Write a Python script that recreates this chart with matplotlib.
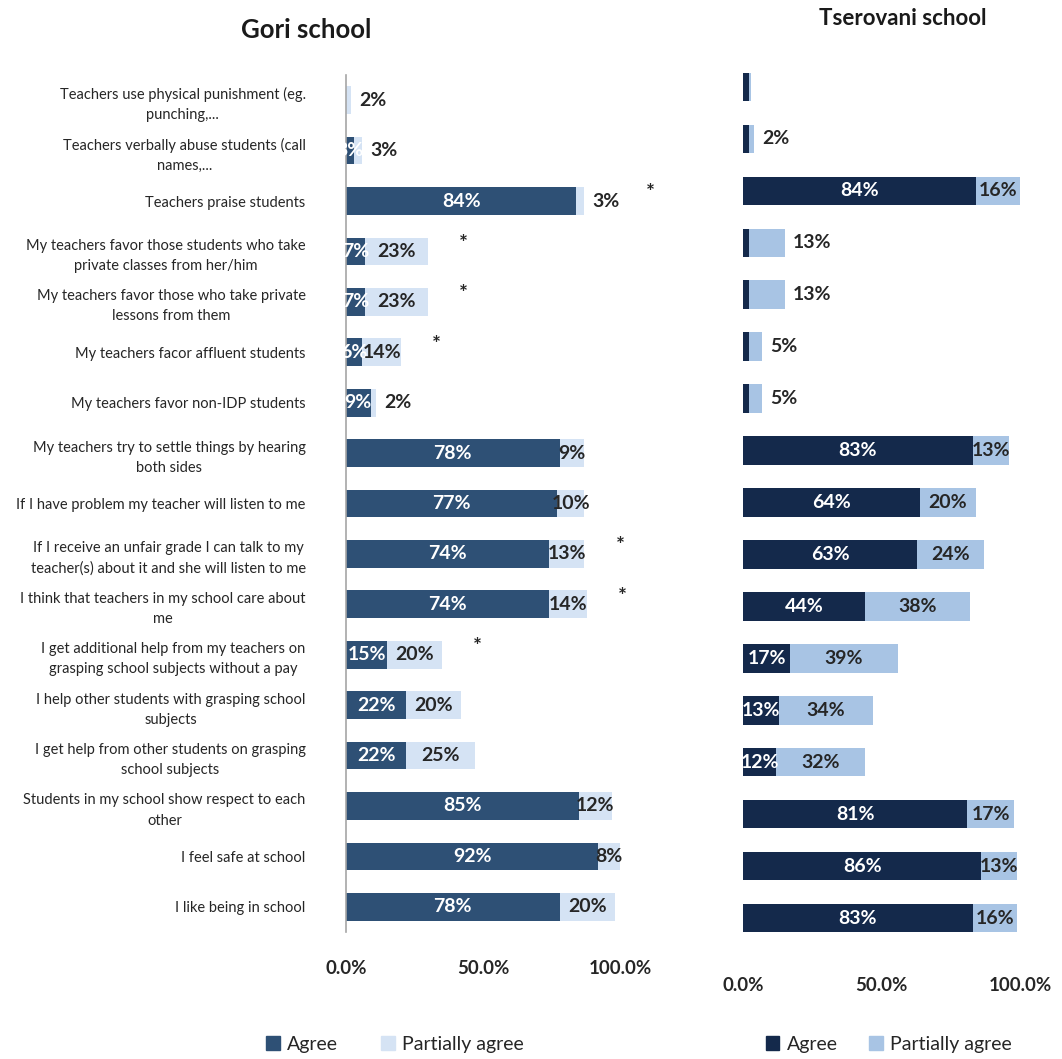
import matplotlib
matplotlib.use('Agg')
import matplotlib.pyplot as plt
from matplotlib.patches import Patch

# Survey statements, top to bottom
statements = [
    "Teachers use physical punishment (eg.\npunching,...",
    "Teachers verbally abuse students (call\nnames,...",
    "Teachers praise students",
    "My teachers favor those students who take\nprivate classes from her/him",
    "My teachers favor those who take private\nlessons from them",
    "My teachers facor affluent students",
    "My teachers favor non-IDP students",
    "My teachers try to settle things by hearing\nboth sides",
    "If I have problem my teacher will listen to me",
    "If I receive an unfair grade I can talk to my\nteacher(s) about it and she will listen to me",
    "I think that teachers in my school care about\nme",
    "I get additional help from my teachers on\ngrasping school subjects without a pay",
    "I help other students with grasping school\nsubjects",
    "I get help from other students on grasping\nschool subjects",
    "Students in my school show respect to each\nother",
    "I feel safe at school",
    "I like being in school",
]

gori_agree = [0, 3, 84, 7, 7, 6, 9, 78, 77, 74, 74, 15, 22, 22, 85, 92, 78]
gori_partial = [2, 3, 3, 23, 23, 14, 2, 9, 10, 13, 14, 20, 20, 25, 12, 8, 20]
gori_signif = [0, 0, 1, 1, 1, 1, 0, 0, 0, 1, 1, 1, 0, 0, 0, 0, 0]

tser_agree = [2, 2, 84, 2, 2, 2, 2, 83, 64, 63, 44, 17, 13, 12, 81, 86, 83]
tser_partial = [1, 2, 16, 13, 13, 5, 5, 13, 20, 24, 38, 39, 34, 32, 17, 13, 16]

x_ticks = [0, 50, 100]
x_tick_labels = ["0.0%", "50.0%", "100.0%"]
series_names = ["Agree", "Partially agree"]

FONT = ['Lato', 'DejaVu Sans']
TEXT_DARK = '#262626'

plt.rcParams['font.family'] = FONT

fig = plt.figure(figsize=(10.62, 10.59), dpi=100)
ax_l = fig.add_axes((0.3258, 0.1199, 0.2580, 0.8093))
ax_r = fig.add_axes((0.6996, 0.1086, 0.2608, 0.8338))


def draw_panel(ax, agree, partial, c_agree, c_partial, signif=None, pad=21):
    rows = list(range(len(agree)))
    totals = [a + p for a, p in zip(agree, partial)]
    ax.barh(rows, agree, height=0.55, color=c_agree)
    ax.barh(rows, partial, left=agree, height=0.55, color=c_partial)

    for i in rows:
        a, p, t = agree[i], partial[i], totals[i]
        if a >= 3:
            ax.text(a / 2, i, f"{a}%", ha='center', va='center',
                    color='white', fontsize=14, fontweight='bold')
        # short segments get their label just past the bar end
        outside = p < 5 or t < 20
        if p < 2:
            pass
        elif outside:
            ax.text(t + 3, i, f"{p}%", ha='left', va='center',
                    color=TEXT_DARK, fontsize=14, fontweight='bold')
        else:
            ax.text(a + p / 2, i, f"{p}%", ha='center', va='center',
                    color=TEXT_DARK, fontsize=14, fontweight='bold')
        if signif and signif[i]:
            ax.text(t + 13 + (11 if outside else 0), i - 0.15, "*",
                    ha='center', va='center', color=TEXT_DARK,
                    fontsize=15, fontweight='bold')

    ax.set_ylim(len(agree) - 0.5, -0.5)
    ax.set_xlim(0, 100)
    ax.set_xticks(x_ticks)
    ax.set_xticklabels(x_tick_labels, fontsize=13.5, fontweight='bold',
                       color=TEXT_DARK)
    ax.tick_params(axis='x', length=0, pad=pad)
    ax.tick_params(axis='y', length=0)
    for side in ('top', 'right', 'bottom', 'left'):
        ax.spines[side].set_visible(False)


draw_panel(ax_l, gori_agree, gori_partial, '#2E5075', '#D5E3F4',
           signif=gori_signif, pad=20)
ax_l.spines['left'].set_visible(True)
ax_l.spines['left'].set_color('#A6A6A6')
ax_l.spines['left'].set_linewidth(1.2)
ax_l.set_yticks(range(len(statements)))
ax_l.set_yticklabels(statements, fontsize=10.5, color=TEXT_DARK,
                     multialignment='center', linespacing=1.55)
ax_l.tick_params(axis='y', pad=29)

draw_panel(ax_r, tser_agree, tser_partial, '#14294B', '#A8C4E4', pad=24)
ax_r.set_yticks([])

fig.text(0.288, 0.972, "Gori school", ha='center', va='center',
         fontsize=18.5, fontweight='bold', color='#1A1A1A')
fig.text(0.850, 0.983, "Tserovani school", ha='center', va='center',
         fontsize=16, fontweight='bold', color='#1A1A1A')

fig.legend(handles=[Patch(color='#2E5075'), Patch(color='#D5E3F4')],
           labels=series_names, loc='center', bbox_to_anchor=(0.372, 0.014),
           ncol=2, frameon=False, fontsize=14, handlelength=0.7,
           handleheight=0.7, columnspacing=2.2, handletextpad=0.4,
           labelcolor=TEXT_DARK)
fig.legend(handles=[Patch(color='#14294B'), Patch(color='#A8C4E4')],
           labels=series_names, loc='center', bbox_to_anchor=(0.837, 0.014),
           ncol=2, frameon=False, fontsize=14, handlelength=0.7,
           handleheight=0.7, columnspacing=1.6, handletextpad=0.4,
           labelcolor=TEXT_DARK)

fig.savefig('out.png', dpi=100, facecolor='white')
